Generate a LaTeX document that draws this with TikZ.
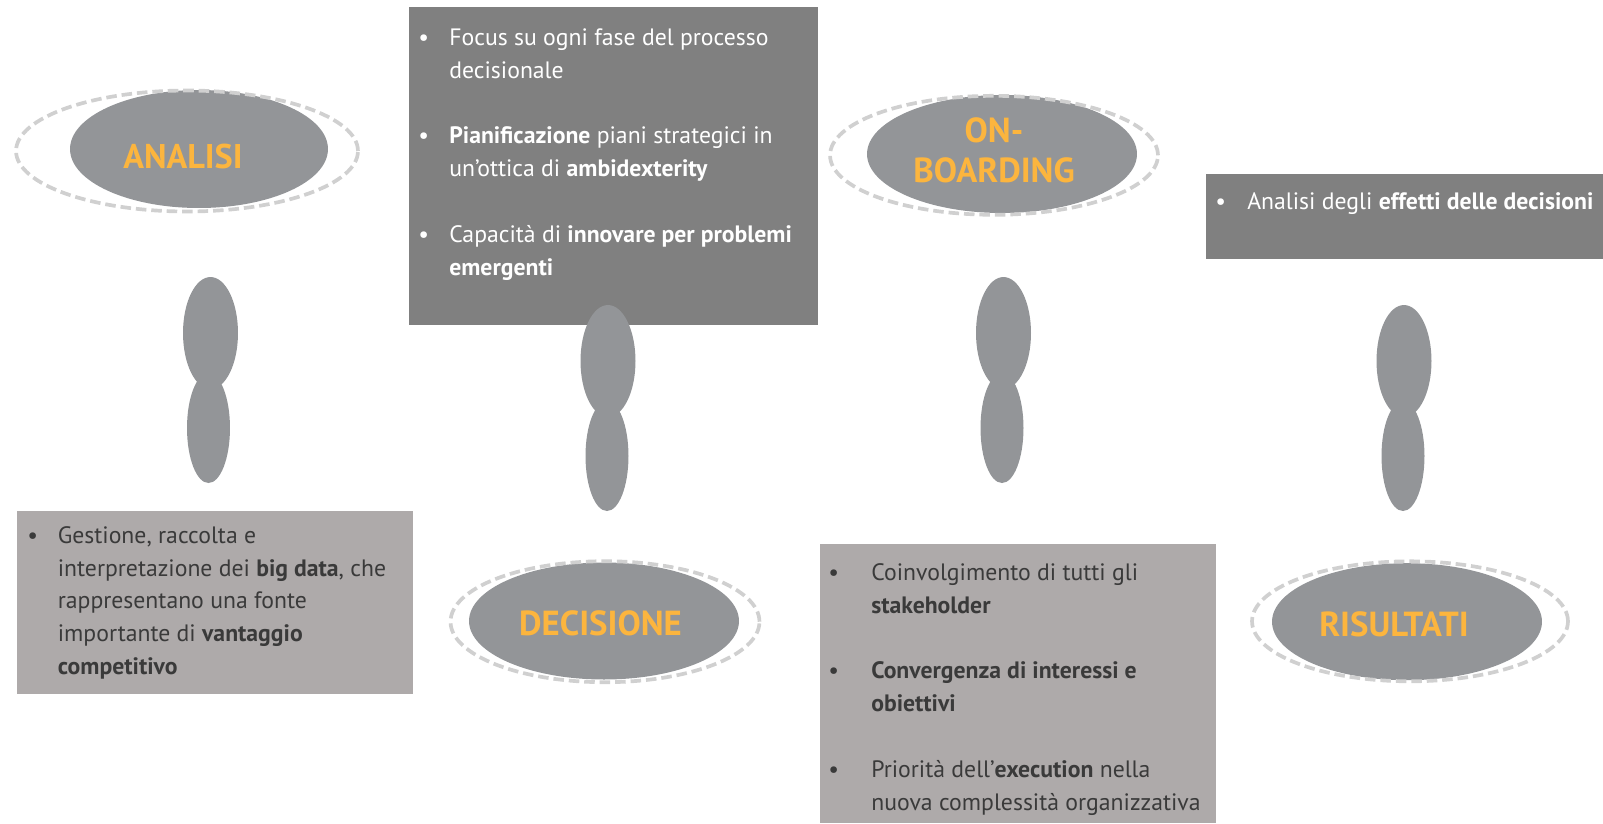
\documentclass[tikz,border=0pt]{standalone}
\usepackage{fontspec}
\setmainfont{PT Sans}
\usepackage{tikz}
\usetikzlibrary{shapes,positioning}

\definecolor{ellgray}{RGB}{147,149,152}
\definecolor{ringgray}{RGB}{208,208,208}
\definecolor{titleorange}{RGB}{252,181,62}
\definecolor{boxdark}{RGB}{128,128,128}
\definecolor{boxlight}{RGB}{174,170,170}
\definecolor{textdark}{RGB}{58,58,58}

\newcommand{\bl}[1]{\makebox[#1][l]{\textbullet}}
\newcommand{\ind}[1]{\hspace*{#1}}

\begin{document}
\begin{tikzpicture}[x=0.02cm,y=-0.02cm,
  fill ell/.style={ellipse,fill=ellgray,inner sep=0pt},
  ring ell/.style={ellipse,draw=ringgray,line width=2.1pt,dash pattern=on 6pt off 2.8pt,inner sep=0pt},
  title/.style={font=\bfseries\fontsize{19.8}{22.7}\selectfont,text=titleorange,align=center,inner sep=0pt},
  stem top/.style={ellipse,fill=ellgray,inner sep=0pt,minimum width=1.10cm,minimum height=2.24cm},
  stem bot/.style={ellipse,fill=ellgray,inner sep=0pt,minimum width=0.86cm,minimum height=2.20cm},
  dark box/.style={fill=boxdark,inner sep=0pt,anchor=north west},
  light box/.style={fill=boxlight,inner sep=0pt,anchor=north west},
  box text/.style={font=\fontsize{13.5}{18.7}\selectfont,align=left,inner sep=0pt,anchor=north west}]
\useasboundingbox (0,0) rectangle (1603,823);

\node[dark box,minimum width=8.18cm,minimum height=6.36cm] (boxDec) at (409,7) {};
\node[dark box,minimum width=7.94cm,minimum height=1.70cm] (boxRis) at (1206,174) {};
\node[light box,minimum width=7.92cm,minimum height=3.66cm] (boxAna) at (17,511) {};
\node[light box,minimum width=7.92cm,minimum height=5.58cm] (boxOnb) at (820,544) {};

\node[box text,text=white] (txtDec) at (418,28) {\bl{0.62cm}Focus su ogni fase del processo\\
\ind{0.62cm}decisionale\\[18.7pt]
\bl{0.62cm}\textbf{Pianificazione} piani strategici in\\
\ind{0.62cm}un’ottica di \textbf{ambidexterity}\\[18.7pt]
\bl{0.62cm}Capacità di \textbf{innovare per problemi}\\
\ind{0.62cm}\textbf{emergenti}};
\node[box text,text=white] (txtRis) at (1215,192) {\bl{0.64cm}Analisi degli \textbf{effetti delle decisioni}};
\node[box text,text=textdark] (txtAna) at (27,526) {\bl{0.61cm}Gestione, raccolta e\\
\ind{0.61cm}interpretazione dei \textbf{big data}, che\\
\ind{0.61cm}rappresentano una fonte\\
\ind{0.61cm}importante di \textbf{vantaggio}\\
\ind{0.61cm}\textbf{competitivo}};
\node[box text,text=textdark] (txtOnb) at (828,563) {\bl{0.86cm}Coinvolgimento di tutti gli\\
\ind{0.86cm}\textbf{stakeholder}\\[18.7pt]
\bl{0.86cm}\textbf{Convergenza di interessi e}\\
\ind{0.86cm}\textbf{obiettivi}\\[18.7pt]
\bl{0.86cm}Priorità dell’\textbf{execution} nella\\
\ind{0.86cm}nuova complessità organizzativa};

\node[stem bot] (stemAnaB) at (208.5,428) {};
\node[stem top] (stemAnaT) at (210.5,333) {};
\node[stem bot] (stemDecB) at (607,456) {};
\node[stem top] (stemDecT) at (608,361) {};
\node[stem bot] (stemOnbB) at (1002,428) {};
\node[stem top] (stemOnbT) at (1003.5,333) {};
\node[stem bot] (stemRisB) at (1403,456) {};
\node[stem top] (stemRisT) at (1404,361) {};

\node[fill ell,minimum width=5.16cm,minimum height=2.36cm] (ellAna) at (199,149) {};
\node[ring ell,minimum width=6.84cm,minimum height=2.42cm] (ringAna) at (187,151) {};
\node[title,font=\bfseries\fontsize{19.5}{22.7}\selectfont] (titAna) at (183,156.7) {ANALISI};

\node[fill ell,minimum width=5.40cm,minimum height=2.34cm] (ellDec) at (604,621) {};
\node[ring ell,minimum width=6.18cm,minimum height=2.42cm] (ringDec) at (605,621.7) {};
\node[title] (titDec) at (600.5,623.8) {DECISIONE};

\node[fill ell,minimum width=5.40cm,minimum height=2.36cm] (ellOnb) at (1002,154) {};
\node[ring ell,minimum width=6.56cm,minimum height=2.38cm] (ringOnb) at (994,155.3) {};
\node[title] (titOnb) at (994,150.2) {ON-\\BOARDING};

\node[fill ell,minimum width=5.40cm,minimum height=2.34cm] (ellRis) at (1407,621.7) {};
\node[ring ell,minimum width=6.32cm,minimum height=2.40cm] (ringRis) at (1410,621.3) {};
\node[title] (titRis) at (1394,624.8) {RISULTATI};
\end{tikzpicture}
\end{document}
